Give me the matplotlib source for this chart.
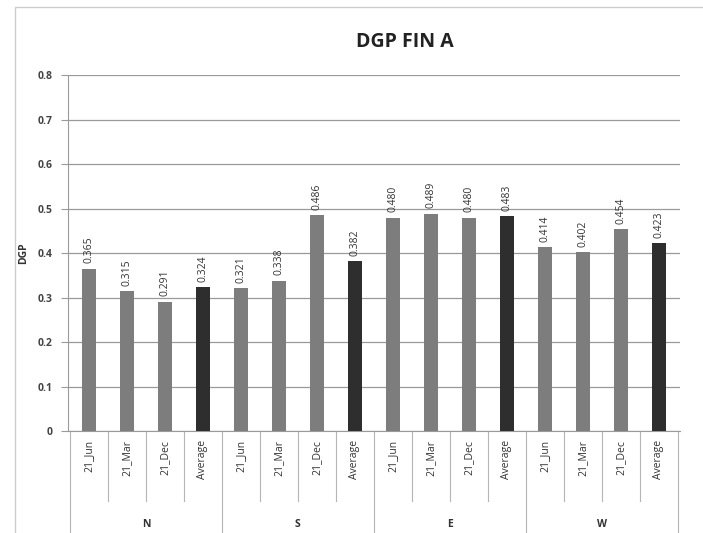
import matplotlib.pyplot as plt
import matplotlib.transforms as mtransforms

# data
groups = ['N', 'S', 'E', 'W']
periods = ['21_Jun', '21_Mar', '21_Dec', 'Average']
dgp_n = [0.365, 0.315, 0.291, 0.324]
dgp_s = [0.321, 0.338, 0.486, 0.382]
dgp_e = [0.480, 0.489, 0.480, 0.483]
dgp_w = [0.414, 0.402, 0.454, 0.423]

values = dgp_n + dgp_s + dgp_e + dgp_w
labels = periods * len(groups)
x = list(range(len(values)))
colors = ['#2e2e2e' if p == 'Average' else '#7d7d7d' for p in labels]

plt.rcParams['font.family'] = ['Open Sans', 'DejaVu Sans']

fig = plt.figure(figsize=(7.03, 5.33), dpi=100)
ax = fig.add_axes([0.0967, 0.191, 0.870, 0.668])

ax.bar(x, values, width=0.37, color=colors, zorder=3)
for xi, v in zip(x, values):
    ax.text(xi, v + 0.012, f'{v:.3f}', rotation=90, ha='center', va='bottom',
            fontsize=7.5, color='#333333')

ax.set_xlim(-0.55, len(values) - 0.45)
ax.set_ylim(0, 0.8)
ax.set_yticks([i / 10 for i in range(9)])
ax.set_yticklabels(['0'] + [f'{i / 10:.1f}' for i in range(1, 9)],
                   fontsize=7.5, fontweight='bold', color='#444444')
ax.grid(axis='y', color='#9a9a9a', linewidth=0.9, zorder=0)
ax.tick_params(axis='y', length=5, color='#9a9a9a', pad=6)
ax.set_xticks([])
for s in ['top', 'right']:
    ax.spines[s].set_visible(False)
ax.spines['left'].set_color('#9a9a9a')
ax.spines['bottom'].set_color('#9a9a9a')

fig.text(0.576, 0.921, 'DGP FIN A', fontsize=14, fontweight='bold',
         color='#222222', ha='center', va='center')
ax.set_ylabel('DGP', fontsize=7.5, fontweight='bold', color='#333333', labelpad=6)

# two-level category axis
trans = mtransforms.blended_transform_factory(ax.transData, ax.transAxes)
for xi, lab in zip(x, labels):
    ax.text(xi, -0.025, lab, rotation=90, ha='center', va='top',
            fontsize=7.5, color='#333333', transform=trans)
for i in range(len(values) + 1):
    bottom = -0.29 if i % 4 == 0 else -0.195
    ax.plot([i - 0.5, i - 0.5], [0, bottom], color='#b5b5b5', linewidth=0.8,
            transform=trans, clip_on=False)
for g, name in enumerate(groups):
    ax.text(g * 4 + 1.5, -0.262, name, ha='center', va='center',
            fontsize=7.5, fontweight='bold', color='#333333', transform=trans)

# outer chart frame
fig.patches.append(plt.Rectangle((0.021, -0.01), 0.99, 0.996, fill=False,
                                 edgecolor='#cccccc', linewidth=1,
                                 transform=fig.transFigure))

fig.savefig('out.png', dpi=100)
